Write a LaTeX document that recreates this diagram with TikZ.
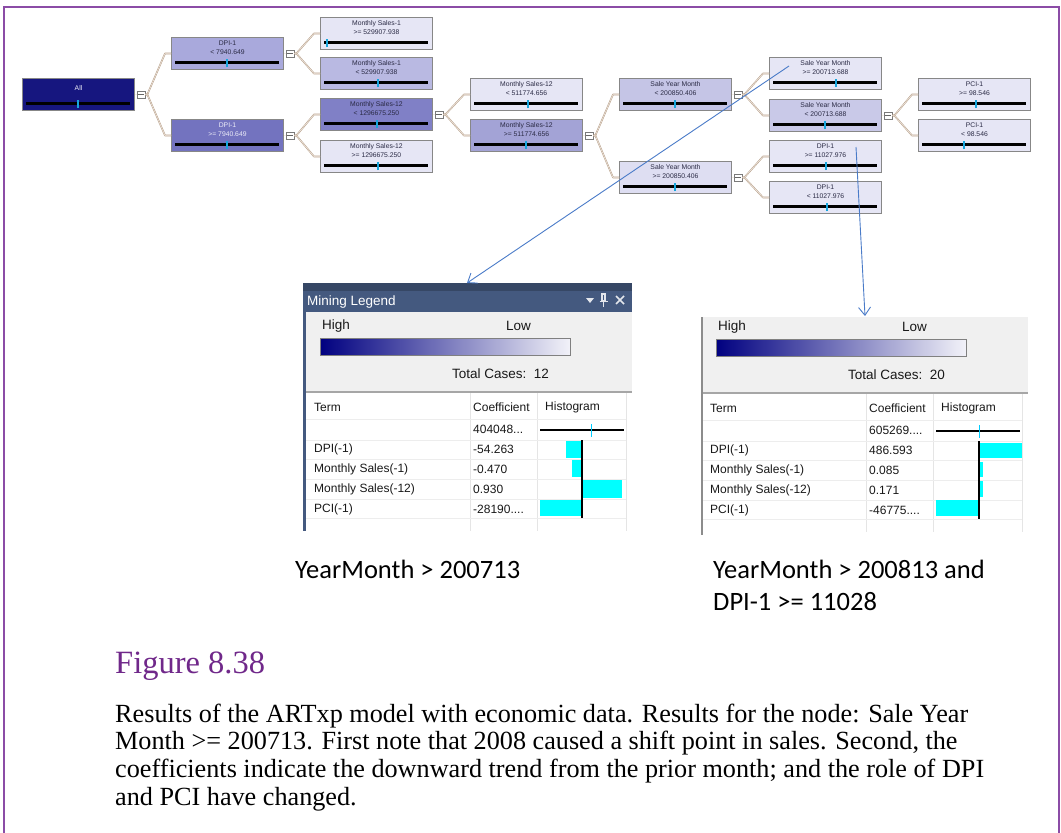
\documentclass[tikz,border=0pt]{standalone}
\usepackage{fontspec}
\setmainfont{Liberation Serif}
\setsansfont{Liberation Sans}
\newfontfamily\calibfont{Carlito}
\usetikzlibrary{arrows.meta}

\definecolor{framepurple}{HTML}{8B4CA6}
\definecolor{figpurple}{HTML}{70288A}
\definecolor{annotblue}{HTML}{4A7BC8}
\definecolor{legendbar}{HTML}{44597F}
\definecolor{panelgrey}{HTML}{F0F0F0}
\definecolor{histcyan}{HTML}{00FFFF}
\definecolor{navy}{HTML}{000080}
\definecolor{lavAll}{HTML}{16167F}
\definecolor{lav10}{HTML}{E6E6F5}
\definecolor{lav20}{HTML}{DEDEF2}
\definecolor{lav30}{HTML}{C9C9E8}
\definecolor{lav35}{HTML}{C5C5E6}
\definecolor{lav40}{HTML}{B9B9E2}
\definecolor{lav50}{HTML}{A9A9DC}
\definecolor{lav55}{HTML}{A3A3D6}
\definecolor{lav70}{HTML}{8080C6}
\definecolor{lav75}{HTML}{7373BF}
\definecolor{tdark}{HTML}{2A2A44}
\definecolor{tlight}{HTML}{EEEEF8}

\newcommand{\tnode}[6]{%
  \node[tbox,fill=#3] (#1) at (#2) {};
  \node[tlabel,text=#4] (#1text) at ([yshift=-10.5pt]#1.north) {#5};
  \draw[tbarout] ([xshift=4pt,yshift=7.5pt]#1.south west) -- ([xshift=-5pt,yshift=7.5pt]#1.south east);
  \draw[tbar] ([xshift=4pt,yshift=7.5pt]#1.south west) -- ([xshift=-5pt,yshift=7.5pt]#1.south east);
  \draw[ttick] ([xshift=#6pt,yshift=3pt]#1.south west) -- ++(0,-8);
}
\newcommand{\texp}[4]{%
  \node[texpbox] (#1) at ([xshift=6pt]#2.east) {};
  \draw[tline] (#2.east) -- (#1.west);
  \draw[tline] (#1.east) -- ++(2,0) -- ([xshift=-6pt]#3.west) -- (#3.west);
  \draw[tline] (#1.east) -- ++(2,0) -- ([xshift=-6pt]#4.west) -- (#4.west);
  \draw[texpminus] ([xshift=1.8pt]#1.west) -- ([xshift=-1.8pt]#1.east);
}
\newcommand{\legbody}[2]{%
  \fill[panelgrey] (306,#1) rectangle (632,392);
  \fill[white] (306,392) rectangle (632,531);
  \draw[legrule] (306,392) -- (632,392);
  \shadedraw[legscale] (320,338) rectangle (570,355);
  \node[legtext,anchor=west] (high) at (322,326) {High};
  \node[legtext,anchor=west] (low) at (506,326) {Low};
  \node[legtext,anchor=west] (total) at (452,374) {Total Cases:\ \ #2};
  \foreach \cx in {470,537,626} \draw[legcol] (\cx,393) -- (\cx,531);
  \foreach \ry in {419,440,459,479,499,518} \draw[legrow] (306,\ry) -- (626,\ry);
  \node[tabtext,anchor=west] (hterm) at (314,407) {Term};
  \node[tabtext,anchor=west] (hcoef) at (473,407) {Coefficient};
  \node[tabtext,anchor=west] (hhist) at (545,407) {Histogram};
  \foreach \term [count=\i] in {DPI(-1),Monthly Sales(-1),Monthly Sales(-12),PCI(-1)}
    \node[tabtext,anchor=west] (term\i) at (314,{429+20*\i}) {\term};
}

\begin{document}
\begin{tikzpicture}[x=1pt,y=-1pt,
  tbox/.style={draw=black!47,line width=1pt,minimum width=112pt,minimum height=32pt,inner sep=0pt,anchor=north west},
  tlabel/.style={font=\sffamily\fontsize{6.8}{9}\selectfont,align=center,inner sep=0pt},
  tbarout/.style={draw=black!58,line width=3.6pt},
  tbar/.style={draw=black,line width=2.2pt},
  ttick/.style={draw=cyan!80!teal,line width=1.3pt},
  texpbox/.style={draw=black!52,fill=white,line width=0.7pt,minimum width=8pt,minimum height=7pt,inner sep=0pt},
  texpminus/.style={draw=black!60,line width=0.6pt},
  tline/.style={draw=black!35!brown!55,double=black!10!brown!12,double distance=0.5pt,line width=0.55pt,line join=round},
  annot/.style={draw=annotblue,line width=0.9pt,-{Straight Barb[length=8pt,width=12pt]}},
  legtext/.style={font=\sffamily\fontsize{13.5}{16}\selectfont,text=black!90,inner sep=0pt},
  tabtext/.style={font=\sffamily\fontsize{12}{14}\selectfont,text=black!90,inner sep=0pt},
  legrule/.style={draw=black!35,line width=1.5pt},
  legcol/.style={draw=black!10,line width=0.8pt},
  legrow/.style={draw=black!7,line width=0.8pt},
  legscale/.style={left color=navy,right color=white!95!navy,draw=black!50,line width=0.8pt},
  capsans/.style={font=\calibfont\fontsize{26.5}{32}\selectfont,anchor=base west,inner sep=0pt},
  capserif/.style={font=\fontsize{26.2}{28}\selectfont,anchor=base west,inner sep=0pt}]
\useasboundingbox (0,0) rectangle (1061,833);
\draw[framepurple,line width=1.5pt] (4,833) -- (4,7) -- (1059,7) -- (1059,833);

% decision tree
\tnode{all}{22,78}{lavAll}{tlight}{All}{56}
\tnode{dpiLo}{171,37}{lav50}{tdark}{DPI-1\\< 7940.649}{56}
\tnode{dpiHi}{171,119}{lav75}{tlight}{DPI-1\\>= 7940.649}{56}
\tnode{msOneHi}{320,17}{lav10}{tdark}{Monthly Sales-1\\>= 529907.938}{7}
\tnode{msOneLo}{320,57}{lav40}{tdark}{Monthly Sales-1\\< 529907.938}{58}
\tnode{msTwLo}{320,98}{lav70}{tdark}{Monthly Sales-12\\< 1296675.250}{57}
\tnode{msTwHi}{320,140}{lav10}{tdark}{Monthly Sales-12\\>= 1296675.250}{58}
\tnode{msTwLoB}{470,78}{lav10}{tdark}{Monthly Sales-12\\< 511774.656}{58}
\tnode{msTwHiB}{470,119}{lav55}{tdark}{Monthly Sales-12\\>= 511774.656}{56}
\tnode{syLo}{619,78}{lav35}{tdark}{Sale Year Month\\< 200850.406}{56}
\tnode{syHi}{619,161}{lav20}{tdark}{Sale Year Month\\>= 200850.406}{56}
\tnode{syHiB}{769,57}{lav10}{tdark}{Sale Year Month\\>= 200713.688}{67}
\tnode{syLoB}{769,99}{lav30}{tdark}{Sale Year Month\\< 200713.688}{56}
\tnode{dpiHiB}{769,140}{lav10}{tdark}{DPI-1\\>= 11027.976}{57}
\tnode{dpiLoB}{769,181}{lav10}{tdark}{DPI-1\\< 11027.976}{58}
\tnode{pciHi}{918,78}{lav10}{tdark}{PCI-1\\>= 98.546}{58}
\tnode{pciLo}{918,119}{lav10}{tdark}{PCI-1\\< 98.546}{46}

\texp{xAll}{all}{dpiLo}{dpiHi}
\texp{xDpiLo}{dpiLo}{msOneHi}{msOneLo}
\texp{xDpiHi}{dpiHi}{msTwLo}{msTwHi}
\texp{xMsTwLo}{msTwLo}{msTwLoB}{msTwHiB}
\texp{xMsTwHiB}{msTwHiB}{syLo}{syHi}
\texp{xSyLo}{syLo}{syHiB}{syLoB}
\texp{xSyHi}{syHi}{dpiHiB}{dpiLoB}
\texp{xSyLoB}{syLoB}{pciHi}{pciLo}

% mining legend, left
\fill[legendbar] (303,283) rectangle (632,312);
\fill[legendbar!80!black] (303,283) rectangle (632,291);
\fill[legendbar] (303,312) rectangle (306,531);
\node[font=\sffamily\fontsize{13.5}{16}\selectfont,text=white,anchor=west,inner sep=0pt] (legtitle) at (307,302) {Mining Legend};
\fill[white!85!legendbar] (586,298) -- (594,298) -- (590,303) -- cycle;
\draw[white!85!legendbar,line width=1.2pt] (602,294) rectangle (605,301) (599.5,301.5) -- (607.5,301.5) (603.5,302) -- (603.5,307);
\draw[white!85!legendbar,line width=1.6pt] (616,296) -- (624,304) (616,304) -- (624,296);
\legbody{312}{12}
\node[tabtext,anchor=west] (coefA0) at (473,429) {404048...};
\node[tabtext,anchor=west] (coefA1) at (473,449) {-54.263};
\node[tabtext,anchor=west] (coefA2) at (473,469) {-0.470};
\node[tabtext,anchor=west] (coefA3) at (473,489) {0.930};
\node[tabtext,anchor=west] (coefA4) at (473,509) {-28190....};
\draw[black,line width=1.3pt] (540,430) -- (624,430);
\draw[histcyan!80!blue,line width=1pt] (591,424) -- (591,437);
\fill[histcyan] (566,441) rectangle (582,458);
\fill[histcyan] (572,460) rectangle (582,477);
\fill[histcyan] (583,480) rectangle (622,498);
\fill[histcyan] (540,500) rectangle (582,516);
\draw[black,line width=2pt] (582,440) -- (582,518);

% mining legend, right
\begin{scope}[shift={(396,1)}]
\legbody{316}{20}
\draw[black!45,line width=1.5pt] (306,316) -- (306,534);
\node[tabtext,anchor=west] (coefB0) at (473,429) {605269....};
\node[tabtext,anchor=west] (coefB1) at (473,449) {486.593};
\node[tabtext,anchor=west] (coefB2) at (473,469) {0.085};
\node[tabtext,anchor=west] (coefB3) at (473,489) {0.171};
\node[tabtext,anchor=west] (coefB4) at (473,509) {-46775....};
\draw[black,line width=1.3pt] (540,430) -- (624,430);
\draw[histcyan!80!blue,line width=1pt] (583,424) -- (583,437);
\fill[histcyan] (584,442) rectangle (626,457);
\fill[histcyan] (584,461) rectangle (587,476);
\fill[histcyan] (584,480) rectangle (587,496);
\fill[histcyan] (540,499) rectangle (583,515);
\draw[black,line width=2pt] (583,440) -- (583,518);
\end{scope}

% pointers from the tree to the legends
\coordinate (fromSy) at (789,66);
\coordinate (toLegA) at (467,283);
\coordinate (fromDpi) at (856,147);
\coordinate (toLegB) at (865,316);
\draw[annot] (fromSy) -- (toLegA);
\draw[annot] (fromDpi) -- (toLegB);

% captions
\node[capsans] (capA) at (295,578) {YearMonth > 200713};
\node[capsans] (capB) at (713,578) {YearMonth > 200813 and};
\node[capsans] (capC) at (713,610) {DPI-1 >= 11028};
\node[font=\fontsize{32.5}{36}\selectfont,text=figpurple,anchor=base west,inner sep=0pt] (fignum) at (115,673) {Figure 8.38};
\node[capserif] (body1) at (115,722) {Results of the ARTxp model with economic data. Results for the node: Sale Year};
\node[capserif] (body2) at (115,749.7) {Month >= 200713. First note that 2008 caused a shift point in sales. Second, the};
\node[capserif] (body3) at (115,777.4) {coefficients indicate the downward trend from the prior month; and the role of DPI};
\node[capserif] (body4) at (115,805.1) {and PCI have changed.};
\end{tikzpicture}
\end{document}
